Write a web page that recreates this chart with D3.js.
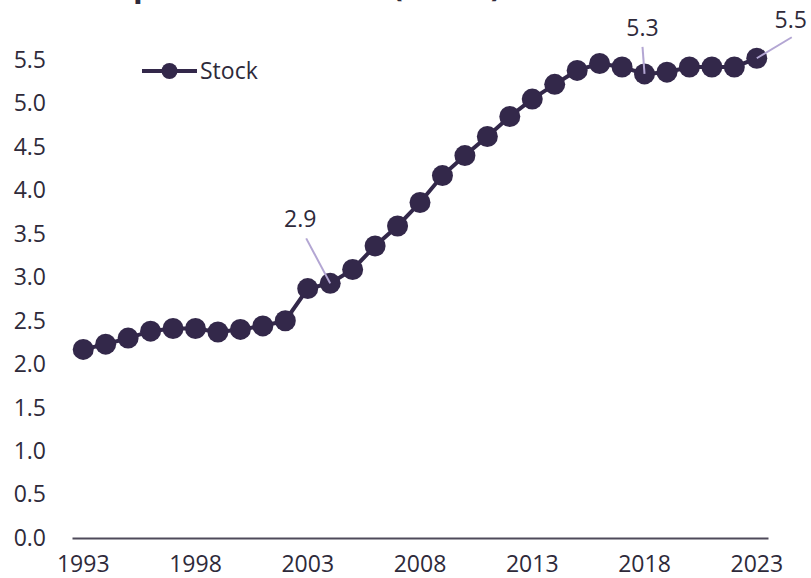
<!DOCTYPE html>
<html>
<head>
<meta charset="utf-8">
<script src="https://cdn.jsdelivr.net/npm/d3@7"></script>
<style>
  html, body { margin: 0; padding: 0; background: #fff; }
  svg text { font-family: "Open Sans", sans-serif; fill: #2e2a3a; }
</style>
</head>
<body>
<div id="chart"></div>
<script>
// data
const years = d3.range(1993, 2024)
const stock = [2.17, 2.23, 2.30, 2.38, 2.41, 2.41, 2.37, 2.40, 2.44, 2.50,
               2.87, 2.93, 3.09, 3.36, 3.59, 3.86, 4.17, 4.40, 4.62, 4.85,
               5.05, 5.22, 5.38, 5.46, 5.42, 5.34, 5.36, 5.42, 5.42, 5.42, 5.52]
const yTicks = [0, 0.5, 1, 1.5, 2, 2.5, 3, 3.5, 4, 4.5, 5, 5.5]
const xTickYears = [1993, 1998, 2003, 2008, 2013, 2018, 2023]
const labelYears = [2004, 2018, 2023]
const seriesName = "Stock"
const title = "Computer Stock Life (Years)"

const width = 811, height = 578
const purple = "#33284a", leader = "#b3a6d3"
const fontSize = 23

let svg = d3.select("#chart").append("svg")
    .attr("width", width)
    .attr("height", height)

let data = years.map((y, i) => ({ year: y, value: stock[i] }))

let x = d3.scaleBand().domain(years).range([72, 768]).padding(0)
let y = d3.scaleLinear().domain([0, 5.5]).range([538, 60])
let cx = d => x(d.year) + x.bandwidth() / 2

// title sits mostly above the top edge, as in the reference
// size it so the "p" and "(" descenders land where the reference shows them
let titleText = svg.append("text")
    .attr("x", 0)
    .attr("y", 0)
    .attr("font-size", 40)
    .attr("font-weight", "bold")
    .text(title)
let tn = titleText.node()
let p0 = tn.getStartPositionOfChar(title.indexOf("p")).x
let q0 = tn.getStartPositionOfChar(title.indexOf("(")).x
let s = (392 - 133) / (q0 - p0)
let titleSize = 40 * s
titleText
    .attr("font-size", titleSize)
    .attr("x", 133 - p0 * s)
    .attr("y", -(0.24 * titleSize - 3.5))

// y axis labels, no line
let yAxis = svg.append("g")
    .attr("transform", "translate(46,0)")
    .call(d3.axisLeft(y).tickValues(yTicks).tickSize(0).tickPadding(0).tickFormat(d3.format(".1f")))
yAxis.select(".domain").remove()
yAxis.selectAll("text").attr("font-size", fontSize).style("font-family", "Open Sans")

// x axis
let xAxis = svg.append("g")
    .attr("transform", "translate(0," + y(0) + ")")
    .call(d3.axisBottom(x).tickValues(xTickYears).tickSize(0).tickPadding(18))
xAxis.select(".domain").attr("stroke", "#4f4a5a").attr("stroke-width", 2)
xAxis.selectAll("text").attr("font-size", fontSize).style("font-family", "Open Sans")

// series line + markers
let line = d3.line().x(cx).y(d => y(d.value))
svg.append("path")
    .datum(data)
    .attr("fill", "none")
    .attr("stroke", purple)
    .attr("stroke-width", 4)
    .attr("d", line)

svg.selectAll(".dot")
    .data(data)
    .enter().append("circle")
    .attr("class", "dot")
    .attr("cx", cx)
    .attr("cy", d => y(d.value))
    .attr("r", 10.5)
    .attr("fill", purple)

// data labels with leader lines
let offsets = { 2004: [-30, -64, -24, -45], 2018: [-2, -46, -2, -27], 2023: [34, -38, 35, -21] }
let fmt = d3.format(".1f")
labelYears.forEach(yr => {
    let d = data.find(p => p.year === yr)
    let o = offsets[yr]
    let px = cx(d), py = y(d.value)
    svg.append("line")
        .attr("x1", px + o[2]).attr("y1", py + o[3])
        .attr("x2", px).attr("y2", py)
        .attr("stroke", leader)
        .attr("stroke-width", 2)
    svg.append("text")
        .attr("x", px + o[0])
        .attr("y", py + o[1])
        .attr("dy", "0.35em")
        .attr("text-anchor", "middle")
        .attr("font-size", fontSize)
        .text(fmt(d.value))
})

// legend
let legend = svg.append("g").attr("transform", "translate(142,71)")
legend.append("line")
    .attr("x1", 0).attr("x2", 55)
    .attr("stroke", purple).attr("stroke-width", 4)
legend.append("circle").attr("cx", 27.5).attr("r", 8).attr("fill", purple)
legend.append("text")
    .attr("x", 58).attr("dy", "0.35em")
    .attr("font-size", fontSize)
    .text(seriesName)
</script>
</body>
</html>
